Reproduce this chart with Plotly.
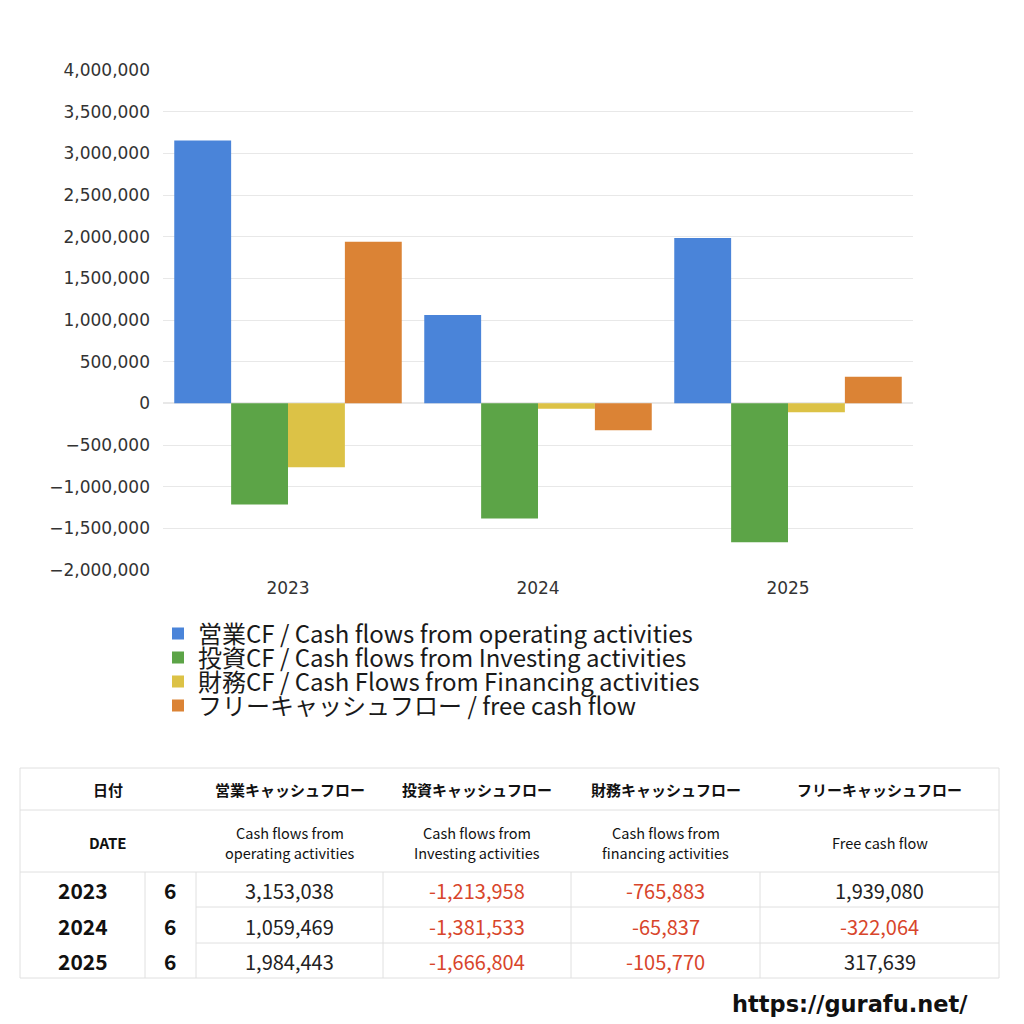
import plotly.graph_objects as go

years = ['2023', '2024', '2025']
months = ['6', '6', '6']
operating = [3153038, 1059469, 1984443]
investing = [-1213958, -1381533, -1666804]
financing = [-765883, -65837, -105770]
free_cf = [1939080, -322064, 317639]

legend_names = ['営業CF / Cash flows from operating activities',
                '投資CF / Cash flows from Investing activities',
                '財務CF / Cash Flows from Financing activities',
                'フリーキャッシュフロー / free cash flow']
colors = ['#4a84d9', '#5ca447', '#dcc246', '#db8335']

head_jp = ['営業キャッシュフロー', '投資キャッシュフロー', '財務キャッシュフロー', 'フリーキャッシュフロー']
head_en = [['Cash flows from', 'operating activities'], ['Cash flows from', 'Investing activities'],
           ['Cash flows from', 'financing activities'], ['Free cash flow']]

W = H = 1024
OFF = 8  # page body margin
FONT = 'Noto Sans CJK JP'
LATIN = 'DejaVu Sans, Noto Sans CJK JP'


def py(p):  # page pixel row -> paper y
    return 1 - (p - OFF) / H


def px(p):
    return (p - OFF) / W


fig = go.Figure()
legend_ids = ['legend', 'legend2', 'legend3', 'legend4']
for k, (name, vals, c) in enumerate(zip(legend_names, [operating, investing, financing, free_cf], colors)):
    fig.add_trace(go.Bar(x=years, y=vals, name=name, marker_color=c, marker_line_width=0,
                         legend=legend_ids[k]))

leg = dict(xanchor='left', yanchor='middle', bgcolor='rgba(0,0,0,0)', borderwidth=0,
           font=dict(family=FONT, size=24, color='#1a1a1a'), itemwidth=30)
legends = {}
for k, lid in enumerate(legend_ids):
    legends[lid] = dict(leg, x=px(158), y=py(634 + 24 * k))

fig.update_layout(
    width=W, height=H,
    margin=dict(l=0, r=0, t=0, b=0, autoexpand=False),
    paper_bgcolor='white', plot_bgcolor='white',
    font=dict(family=FONT, color='#333'),
    barmode='group', bargap=0.09, bargroupgap=0,
    xaxis=dict(domain=[px(163), px(913)], tickfont=dict(family=LATIN, size=17, color='#333'),
               showgrid=False, ticks='', automargin=False, ticklabelstandoff=6),
    yaxis=dict(domain=[py(570), py(70)], range=[-2000000, 4000000], dtick=500000,
               tickformat=',d', gridcolor='#e8e8e8', zeroline=True, zerolinecolor='#e8e8e8',
               tickfont=dict(family=LATIN, size=17, color='#333'), ticklabelstandoff=12,
               automargin=False),
    showlegend=True,
    **legends,
)

# table grid
line = dict(color='#e0e0e0', width=1)
cols = [20, 145, 196, 383, 571, 760, 999]


def hline(y, x0, x1):
    fig.add_shape(type='line', xref='paper', yref='paper', x0=px(x0), x1=px(x1), y0=py(y), y1=py(y), line=line)


def vline(x, y0, y1):
    fig.add_shape(type='line', xref='paper', yref='paper', x0=px(x), x1=px(x), y0=py(y0), y1=py(y1), line=line)


for r in [768, 810, 872, 978]:
    hline(r, 20, 999)
for r in [907, 943]:
    hline(r, 196, 999)
for c in [20, 999]:
    vline(c, 768, 978)
for c in cols[1:-1]:
    vline(c, 872, 978)


def txt(x, y, s, size, color='#222', bold=False, family=FONT):
    fig.add_annotation(xref='paper', yref='paper', x=px(x), y=py(y), text=f'<b>{s}</b>' if bold else s,
                       showarrow=False, xanchor='center', yanchor='middle',
                       font=dict(family=family, size=size, color=color))


centers = [(c0 + c1) / 2 for c0, c1 in zip(cols[2:-1], cols[3:])]
txt(108, 789, '日付', 15, '#111', bold=True)
txt(108, 842, 'DATE', 15, '#111', bold=True)
for cx, j, e in zip(centers, head_jp, head_en):
    txt(cx, 789, j, 15, '#111', bold=True)
    if len(e) == 2:
        txt(cx, 832, e[0], 14.5, '#111')
        txt(cx, 852, e[1], 14.5, '#111')
    else:
        txt(cx, 842, e[0], 14.5, '#111')

data_rows = [890, 926, 961]
for i, ry in enumerate(data_rows):
    txt(83, ry, years[i], 21, '#111', bold=True)
    txt(170, ry, months[i], 21, '#111', bold=True)
    for cx, series in zip(centers, [operating, investing, financing, free_cf]):
        v = series[i]
        txt(cx, ry, f'{v:,}', 20, '#d8452b' if v < 0 else '#222')

fig.add_annotation(xref='paper', yref='paper', x=px(970), y=py(1004), text='<b>https://gurafu.net/</b>',
                   showarrow=False, xanchor='right', yanchor='middle',
                   font=dict(family='DejaVu Sans', size=22.5, color='#111'))

fig.write_html('out.html')
